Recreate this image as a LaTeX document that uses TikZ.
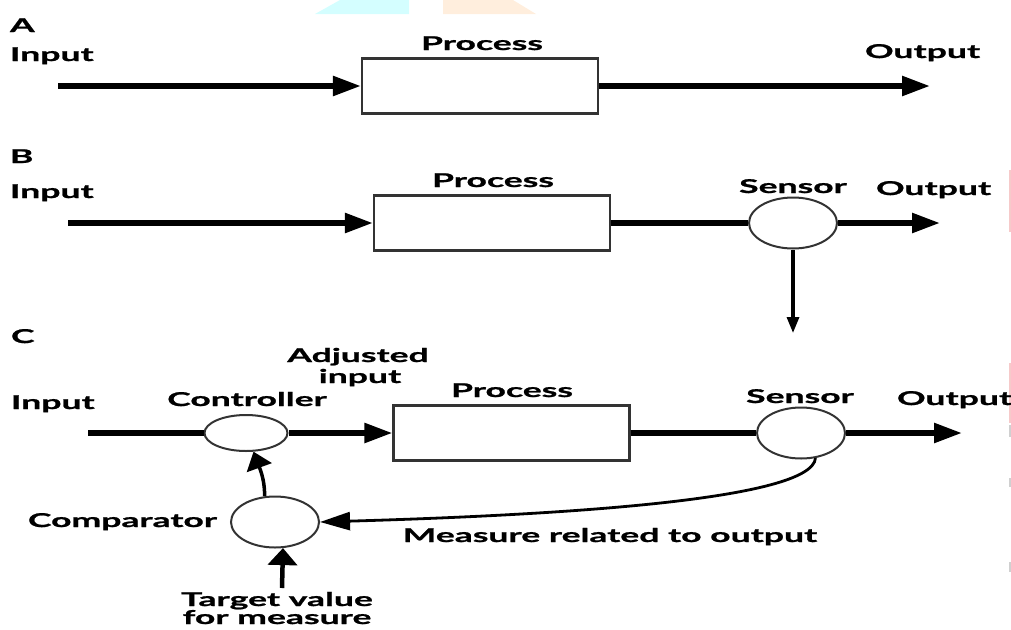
\documentclass[tikz,border=0pt]{standalone}
\usepackage{fontspec}
\setmainfont{Lato}[FakeStretch=1.87, BoldFeatures={FakeBold=1.2}]
\usetikzlibrary{arrows.meta,shapes.geometric}
\definecolor{wmcyan}{HTML}{D4FEFF}
\definecolor{wmorange}{HTML}{FFEEDD}
\definecolor{edgepink}{HTML}{F6CACA}
\definecolor{edgegray}{HTML}{D0D0D0}
\definecolor{boxline}{HTML}{333333}
\begin{document}
\begin{tikzpicture}[x=1pt,y=-1pt,
  lbl/.style={font=\fontsize{19}{22}\selectfont\bfseries, inner sep=0pt, outer sep=0pt},
  procbox/.style={draw=boxline, line width=2.2pt, minimum width=236pt, minimum height=55pt, inner sep=0pt},
  circ/.style={ellipse, draw=boxline, line width=2pt, minimum width=88pt, minimum height=51pt, inner sep=0pt},
  smallcirc/.style={ellipse, draw=boxline, line width=2pt, minimum width=83pt, minimum height=36pt, inner sep=0pt},
  mainline/.style={line width=5.5pt},
  flow/.style={line width=5.5pt, -{Triangle[length=28pt,width=19pt]}},
  thinflow/.style={line width=3.2pt, -{Triangle[length=16pt,width=12pt]}},
  feedflow/.style={line width=2.8pt, -{Triangle[length=30pt,width=18pt]}},
  upflow/.style={line width=3.5pt, -{Triangle[length=17pt,width=26pt]}},
  targetflow/.style={line width=4.5pt, -{Triangle[length=17pt,width=29pt]}}]
\path[use as bounding box] (0,0) rectangle (1011,629);
% faint marks
\fill[wmcyan] (315,14) -- (340,0) -- (409,0) -- (409,14) -- cycle;
\fill[wmorange] (443,0) -- (513,0) -- (536,14) -- (443,14) -- cycle;
\draw[edgepink, line width=1.5pt] (1010,170) -- (1010,232);
\draw[edgepink, line width=1.5pt] (1010,363) -- (1010,423);
\draw[edgegray, line width=1.5pt] (1010,425) -- (1010,437);
\draw[edgegray, line width=1.5pt] (1010,478) -- (1010,487);
\draw[edgegray, line width=1.5pt] (1010,562) -- (1010,572);

% ---------- A ----------
\node[lbl, anchor=base west] (labA) at (10,32) {A};
\node[lbl, anchor=base west] (inA) at (10,61) {Input};
\node[lbl, anchor=base] (procAlbl) at (482,50) {Process};
\node[lbl, anchor=base west] (outA) at (865,58) {Output};
\node[procbox] (boxA) at (480,86) {};
\coordinate (aStart) at (58,86);
\coordinate (aEnd) at (930,86);
\draw[flow] (aStart) -- (boxA.west);
\draw[flow] (boxA.east) -- (aEnd);

% ---------- B ----------
\node[lbl, anchor=base west] (labB) at (10,163) {B};
\node[lbl, anchor=base west] (inB) at (10,198) {Input};
\node[lbl, anchor=base] (procBlbl) at (493,187) {Process};
\node[lbl, anchor=base] (sensBlbl) at (793,193) {Sensor};
\node[lbl, anchor=base west] (outB) at (876,195) {Output};
\node[procbox] (boxB) at (492,223) {};
\node[circ] (sensB) at (793,223) {};
\coordinate (bStart) at (68,223);
\coordinate (bEnd) at (940,223);
\coordinate (bDown) at (793,333);
\draw[flow] (bStart) -- (boxB.west);
\draw[mainline] (boxB.east) -- (sensB.west);
\draw[flow] (sensB.east) -- (bEnd);
\draw[thinflow] (sensB.south) -- (bDown);

% ---------- C ----------
\node[lbl, anchor=base west] (labC) at (11,343) {C};
\node[lbl, anchor=base] (adj1) at (358,362) {Adjusted};
\node[lbl, anchor=base] (adj2) at (360,383) {input};
\node[lbl, anchor=base west] (inC) at (11,409) {Input};
\node[lbl, anchor=base] (ctrlLbl) at (247,406) {Controller};
\node[lbl, anchor=base] (procClbl) at (512,397) {Process};
\node[lbl, anchor=base] (sensClbl) at (800,403) {Sensor};
\node[lbl, anchor=base west] (outC) at (897,405) {Output};
\node[lbl, anchor=base east] (compLbl) at (217,527) {Comparator};
\node[lbl, anchor=base] (measLbl) at (610,542) {Measure related to output};
\node[lbl, anchor=base] (tgt1) at (277,606) {Target value};
\node[lbl, anchor=base] (tgt2) at (277,624) {for measure};

\node[smallcirc] (ctrl) at (246,433) {};
\node[procbox] (boxC) at (511.5,433) {};
\node[circ] (sensC) at (801,433) {};
\node[circ] (comp) at (275,522) {};
\coordinate (cStart) at (88,433);
\coordinate (cEnd) at (962,433);
\coordinate (tStart) at (282,588);

\draw[mainline] (cStart) -- (ctrl.west);
\draw[flow] (ctrl.east) -- (boxC.west);
\draw[mainline] (boxC.east) -- (sensC.west);
\draw[flow] (sensC.east) -- (cEnd);
\draw[feedflow] (sensC.-60) .. controls (812,500) and (560,515) .. (comp.east);
\draw[upflow] (comp.112) .. controls (265,478) and (258,464) .. (ctrl.-68);
\draw[targetflow] (tStart) -- (comp.-73);
\end{tikzpicture}
\end{document}
